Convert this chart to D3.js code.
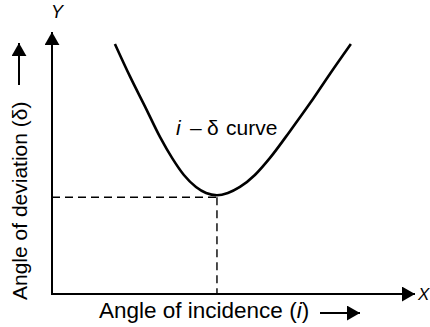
<!DOCTYPE html>
<html>
<head>
<meta charset="utf-8">
<script src="https://cdn.jsdelivr.net/npm/d3@7"></script>
<style>
    body { margin: 0; background: #fff; }
    svg { display: block; font-family: "Liberation Sans", Arial, sans-serif; }
</style>
</head>
<body>
<svg id="chart" width="430" height="327"></svg>
<script>
// Donnees (angle d'incidence i, angle de deviation delta)
const incidenceValues = [15.6, 19.3, 23.1, 26.8, 29.8, 32.7, 35.7, 38.2, 40.9, 43.6, 46.6, 50.3, 54.0, 59.0, 64.0, 68.9, 74.1];
const deviationValues = [66.8, 58.2, 50.0, 41.9, 36.3, 31.8, 28.6, 27.0, 26.4, 27.0, 28.6, 31.8, 36.3, 43.5, 51.0, 58.8, 66.8];
const minimumPoint = { i: 40.9, delta: 26.4 };
const xLabel = "Angle of incidence (";
const yLabel = "Angle of deviation (δ)";

const svg = d3.select("#chart");
const origin = { x: 52, y: 294 };

// Echelles
const xScale = d3.scaleLinear().domain([0, 90]).range([origin.x, 415]);
const yScale = d3.scaleLinear().domain([0, 70]).range([origin.y, 32]);

const curveData = incidenceValues.map(function(value, index) {
    return { i: value, delta: deviationValues[index] };
});

// Fleches
const defs = svg.append("defs");
defs.append("marker")
    .attr("id", "arrow")
    .attr("viewBox", "0 0 14 16")
    .attr("refX", 14)
    .attr("refY", 8)
    .attr("markerWidth", 13)
    .attr("markerHeight", 15)
    .attr("markerUnits", "userSpaceOnUse")
    .attr("orient", "auto")
    .append("path")
    .attr("d", "M0,0 L14,8 L0,16 Z")
    .attr("fill", "#000");

// Axes
svg.append("line")
    .attr("x1", origin.x - 1).attr("y1", origin.y)
    .attr("x2", xScale(90)).attr("y2", origin.y)
    .attr("stroke", "#000").attr("stroke-width", 2)
    .attr("marker-end", "url(#arrow)");

svg.append("line")
    .attr("x1", origin.x).attr("y1", origin.y + 1)
    .attr("x2", origin.x).attr("y2", yScale(70))
    .attr("stroke", "#000").attr("stroke-width", 2)
    .attr("marker-end", "url(#arrow)");

svg.append("text")
    .attr("x", 418).attr("y", 300)
    .attr("font-size", 17).attr("font-style", "italic")
    .text("X");

svg.append("text")
    .attr("x", 57).attr("y", 18)
    .attr("text-anchor", "middle")
    .attr("font-size", 18).attr("font-style", "italic")
    .text("Y");

// Lignes pointillees vers le minimum
const dashY = yScale(minimumPoint.delta) + 2;

svg.append("line")
    .attr("x1", origin.x).attr("y1", dashY)
    .attr("x2", xScale(minimumPoint.i)).attr("y2", dashY)
    .attr("stroke", "#000").attr("stroke-width", 1.4)
    .attr("stroke-dasharray", "8,5");

svg.append("line")
    .attr("x1", xScale(minimumPoint.i)).attr("y1", dashY)
    .attr("x2", xScale(minimumPoint.i)).attr("y2", origin.y)
    .attr("stroke", "#000").attr("stroke-width", 1.4)
    .attr("stroke-dasharray", "8,5");

// Courbe i - delta
const line = d3.line()
    .x(function(d) { return xScale(d.i); })
    .y(function(d) { return yScale(d.delta); })
    .curve(d3.curveMonotoneX);

svg.append("path")
    .datum(curveData)
    .attr("d", line)
    .attr("fill", "none")
    .attr("stroke", "#000")
    .attr("stroke-width", 2.6);

const curveLabel = svg.append("text")
    .attr("y", 135)
    .attr("font-size", 21);
curveLabel.append("tspan").attr("x", 176).attr("font-style", "italic").text("i");
curveLabel.append("tspan").attr("x", 190).text("–");
curveLabel.append("tspan").attr("x", 207).text("δ");
curveLabel.append("tspan").attr("x", 226).text("curve");

// Titres des axes
const xTitle = svg.append("text")
    .attr("x", 99).attr("y", 318)
    .attr("font-size", 22.5);
xTitle.append("tspan").text(xLabel);
xTitle.append("tspan").attr("font-style", "italic").text("i");
xTitle.append("tspan").text(")");

svg.append("line")
    .attr("x1", 320).attr("y1", 313)
    .attr("x2", 360).attr("y2", 313)
    .attr("stroke", "#000").attr("stroke-width", 2)
    .attr("marker-end", "url(#arrow)");

svg.append("text")
    .attr("transform", "translate(27,300) rotate(-90)")
    .attr("font-size", 21)
    .text(yLabel);

svg.append("line")
    .attr("x1", 19).attr("y1", 85)
    .attr("x2", 19).attr("y2", 43)
    .attr("stroke", "#000").attr("stroke-width", 2)
    .attr("marker-end", "url(#arrow)");
</script>
</body>
</html>
